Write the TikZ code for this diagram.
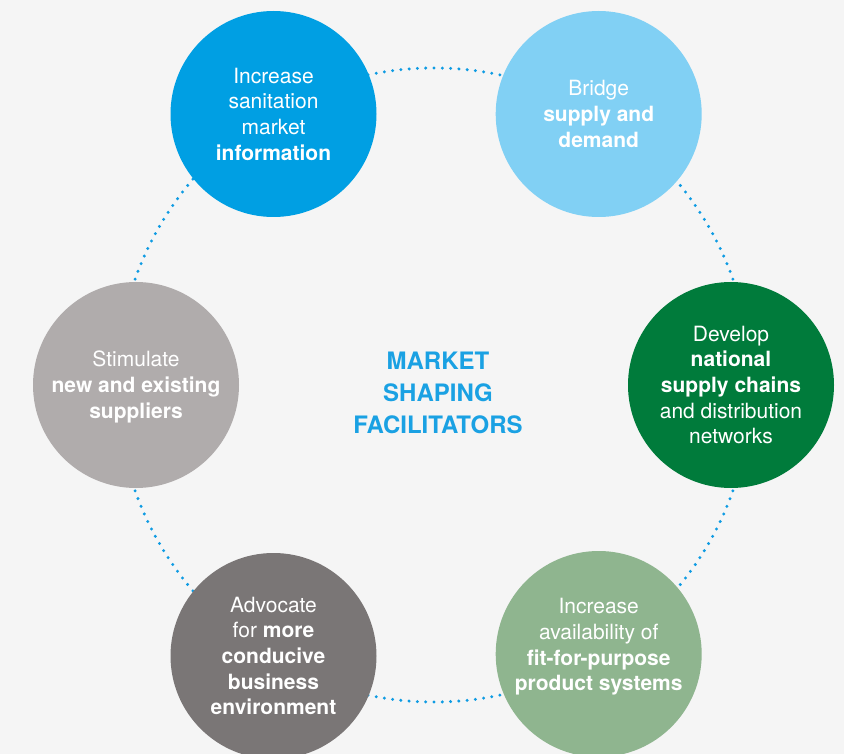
\documentclass[tikz,border=0pt]{standalone}
\usepackage{fontspec}
\setmainfont{TeX Gyre Heros}
\begin{document}
\begin{tikzpicture}
    [x=1pt,y=-1pt,
    % Styles
    bubble/.style={circle,minimum size=206pt,inner sep=0pt},
    bubble text/.style={text=white,align=center,font=\fontsize{21}{25.7}\selectfont},
    ring/.style={draw=dotcolor,line width=3.3pt,line cap=round,dash pattern=on 0pt off 8.3pt},
    title text/.style={text=titlecolor,align=center,font=\fontsize{24}{32}\selectfont\bfseries}]
    % Colors
    \definecolor{backcolor}{HTML}{F5F5F5}
    \definecolor{dotcolor}{HTML}{0E9BE3}
    \definecolor{titlecolor}{HTML}{1AA1E3}
    \definecolor{infocolor}{HTML}{009FE3}
    \definecolor{bridgecolor}{HTML}{81D0F4}
    \definecolor{chaincolor}{HTML}{007B3B}
    \definecolor{productcolor}{HTML}{8FB58F}
    \definecolor{advocatecolor}{HTML}{7A7676}
    \definecolor{suppliercolor}{HTML}{B0ACAC}
    % The graphic
    \fill[backcolor] (0,0) rectangle (844,754);
    \useasboundingbox (0,0) rectangle (844,754);
    \coordinate (hub) at (434,385);
    \draw[ring] (hub) circle [radius=317pt];
    \node[bubble,fill=infocolor] (info) at (273.5,114) {};
    \node[bubble,fill=bridgecolor] (bridge) at (598.7,114) {};
    \node[bubble,fill=chaincolor] (chains) at (731,385) {};
    \node[bubble,fill=productcolor] (product) at (598.7,654) {};
    \node[bubble,fill=advocatecolor] (advocate) at (273.5,656) {};
    \node[bubble,fill=suppliercolor] (suppliers) at (136,385) {};
    \node[bubble text] (info text) at (info)
      {Increase\\sanitation\\market\\\textbf{information}};
    \node[bubble text] (bridge text) at (bridge)
      {Bridge\\\textbf{supply and}\\\textbf{demand}};
    \node[bubble text] (chains text) at (chains)
      {Develop\\\textbf{national}\\\textbf{supply chains}\\and distribution\\networks};
    \node[bubble text] (product text) at ([yshift=7pt]product.center)
      {Increase\\availability of\\\textbf{fit-for-purpose}\\\textbf{product systems}};
    \node[bubble text] (advocate text) at (advocate)
      {Advocate\\for \textbf{more}\\\textbf{conducive}\\\textbf{business}\\\textbf{environment}};
    \node[bubble text] (suppliers text) at ([yshift=-2pt]suppliers.center)
      {Stimulate\\\textbf{new and existing}\\\textbf{suppliers}};
    \node[title text] (title) at (438,392.4) {MARKET\\SHAPING\\FACILITATORS};
  \end{tikzpicture}
\end{document}
